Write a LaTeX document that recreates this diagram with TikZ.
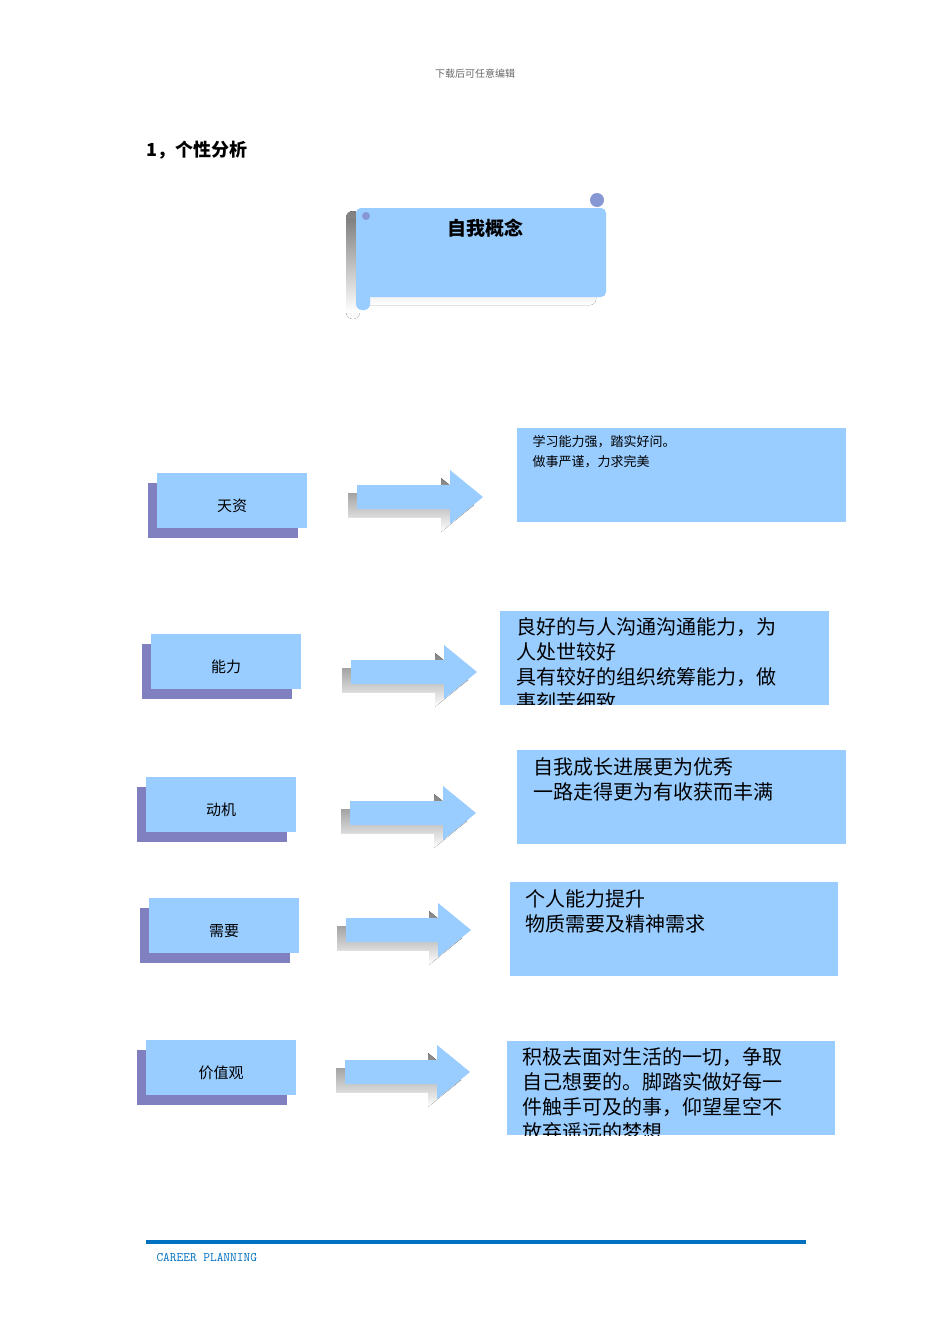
\documentclass[tikz,border=0pt]{standalone}
\usepackage{fontspec}
\setmainfont{Noto Sans CJK SC}
\usepackage{tikz}
\usetikzlibrary{positioning}

\definecolor{lblue}{HTML}{99CCFF}
\definecolor{shade}{HTML}{8080C0}
\definecolor{rule}{HTML}{0070C0}

\tikzset{
  namebox/.style={fill=lblue,minimum width=150pt,minimum height=55pt,
                  anchor=north west,inner sep=0pt,font=\fontsize{15}{18}\selectfont},
  shadowbox/.style={fill=shade,minimum width=150pt,minimum height=55pt,
                  anchor=north west,inner sep=0pt},
  textbox/.style={fill=lblue,anchor=north west,inner sep=0pt,minimum height=94pt}
}
% block arrow: left x, tip x, centre y
\newcommand\blockarrow[4]{%
  \fill[#4] (#1,#3-12) -- (#2-33,#3-12) -- (#2-33,#3-27) -- (#2,#3)
        -- (#2-33,#3+27) -- (#2-33,#3+12) -- (#1,#3+12) -- cycle;}

\begin{document}
\begin{tikzpicture}[x=1pt,y=-1pt]
\useasboundingbox (0,0) rectangle (950,1344);

\node[font=\fontsize{10}{12}\selectfont,text=black!60] (hdr) at (475,74) {下载后可任意编辑};
\node[anchor=west,font=\fontsize{18}{22}\selectfont\bfseries] (ttl) at (143,150) {1，个性分析};

% scroll
\fill[shade,rounded corners=6] (346,218) rectangle (596,305);
\fill[shade] (353,218) circle (7) (353,312) circle (7);
\fill[shade] (346,218) rectangle (360,312);
\fill[lblue,rounded corners=5] (356,208) rectangle (606,297);
\fill[lblue,rounded corners=6] (356,208) rectangle (370,310);
\fill[shade!70!lblue] (597,200) circle (7);
\fill[shade!70!lblue] (366,216) circle (4);
\node[font=\fontsize{19}{22}\selectfont\bfseries] (concept) at (485,228) {自我概念};

% rows: name, box x, box y, arrow left, arrow tip, arrow y
\foreach \nm/\bx/\by/\al/\at/\ay [count=\i] in
  {天资/157/473/357/483/497, 能力/151/634/351/477/672, 动机/146/777/350/476/813,
   需要/149/898/346/471/930, 价值观/146/1040/345/470/1072}{
  \node[shadowbox] (sh\i) at (\bx-9,\by+10) {};
  \node[namebox] (nm\i) at (\bx,\by) {};
  \node[font=\fontsize{15}{18}\selectfont] at ([yshift=-5pt]nm\i.center) {\nm};
  \blockarrow{\al-9}{\at-9}{\ay+8}{shade}
  \blockarrow{\al}{\at}{\ay}{lblue}
}

% right boxes
\node[textbox,minimum width=329pt] (d1) at (517,428) {};
\node[anchor=north west,align=left,font=\fontsize{13}{20}\selectfont] at (529,432)
  {学习能力强，踏实好问。\\做事严谨，力求完美};

\node[textbox,minimum width=329pt] (d2) at (500,611) {};
\begin{scope}
\clip (500,611) rectangle (829,704);
\node[anchor=north west,align=left,text width=305pt,font=\fontsize{20}{25}\selectfont] at (513,614)
  {良好的与人沟通沟通能力，为\\人处世较好\\具有较好的组织统筹能力，做\\事刻苦细致};
\end{scope}

\node[textbox,minimum width=329pt] (d3) at (517,750) {};
\node[anchor=north west,align=left,font=\fontsize{20}{25}\selectfont] at (530,754)
  {自我成长进展更为优秀\\一路走得更为有收获而丰满};

\node[textbox,minimum width=328pt] (d4) at (510,882) {};
\node[anchor=north west,align=left,font=\fontsize{20}{25}\selectfont] at (522,886)
  {个人能力提升\\物质需要及精神需求};

\node[textbox,minimum width=328pt] (d5) at (507,1041) {};
\begin{scope}
\clip (507,1041) rectangle (835,1135);
\node[anchor=north west,align=left,font=\fontsize{20}{25}\selectfont] at (519,1044)
  {积极去面对生活的一切，争取\\自己想要的。脚踏实做好每一\\件触手可及的事，仰望星空不\\放弃遥远的梦想};
\end{scope}

% footer
\draw[rule,line width=4pt] (146,1242) -- (806,1242);
\node[anchor=west,text=rule,font=\fontsize{13}{15}\selectfont\ttfamily] (foot) at (153,1257) {CAREER PLANNING};
\end{tikzpicture}
\end{document}
